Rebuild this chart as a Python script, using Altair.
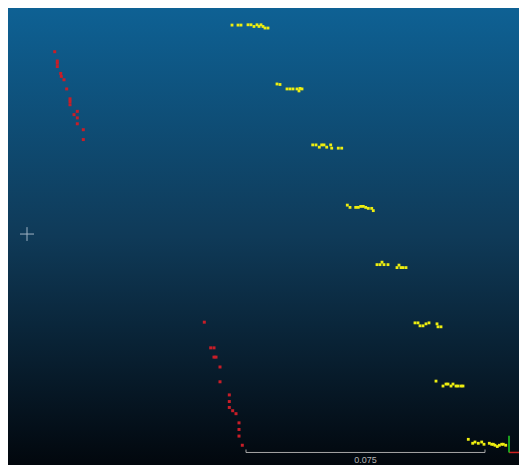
import altair as alt
import pandas as pd

# Point cloud coordinates read from the view (screen-like units, y grows downward)
red_x = [54.7, 57.3, 57.3, 57.3, 60.7, 61.3, 64, 66.7, 70, 70, 70, 77.3, 74, 77.3, 77.3, 83.3, 83.3,
         204.3, 210.7, 214, 214, 216, 220, 220, 229.3, 229.3, 229.3, 232.7, 236, 239, 239, 239, 242.3]
red_y = [52.3, 61.7, 64, 67.3, 74.3, 77.3, 80.7, 90, 100, 102.7, 106, 112.7, 116, 119.3, 125.3, 131.3, 141.3,
         326.3, 352.3, 352.3, 361.7, 361.7, 371.7, 386.7, 400, 406.7, 412.7, 416, 419, 428.3, 435, 441.7, 451]

yellow_x = [232, 238, 241, 248, 251, 254, 257, 259, 261, 263, 265, 268,
            277, 280, 287, 290, 293, 297, 300, 299, 302,
            312.7, 316, 319.3, 321.7, 324, 326.7, 330.7, 331.7, 338.3, 341.7,
            347.3, 350, 355.7, 358.3, 360.7, 363.3, 365.7, 368.3, 371.7, 373.3,
            377, 380, 382, 384, 388, 397, 399, 401, 403, 406,
            415, 418, 420, 423, 426, 429, 437, 438, 441,
            436, 443, 446, 448, 451, 453, 456, 458, 461, 463,
            468.3, 472.7, 475, 478.3, 481.7, 484, 489.3, 491.7, 493.3, 495, 497.3, 499.3, 501.7, 503.3, 505.7]
yellow_y = [25.3, 25.3, 25.3, 25, 25, 26.7, 25, 26.7, 25, 26.7, 28.3, 28.3,
            85, 85.5, 90, 90, 90, 90, 89.5, 92, 90,
            146.7, 146.7, 149, 146.7, 146.7, 149, 146.7, 150, 150, 150,
            207.7, 210, 210, 210, 209, 209, 210, 211, 211, 213.3,
            268, 268, 265.5, 268, 268, 271, 268.5, 271, 271, 271,
            327, 327, 330, 330, 328, 327, 328, 331, 331,
            386, 391, 389, 389, 391, 389, 391, 391, 391, 391,
            445, 449, 447.7, 449, 447.7, 450, 449, 450, 450, 451, 452.3, 451, 450, 450, 451]

scale_label = "0.075"
scale_bar_x = [246, 485]
scale_bar_y = 458.3
cross_center = (27, 237)
cross_arm = 7
axis_origin = (509, 458.3)
axis_len_x = 18
axis_len_y = 17

W, H = 511, 457
xs = alt.Scale(domain=[8, 519], range=[0, W], nice=False, zero=False)
ys = alt.Scale(domain=[8, 471], range=[0, H], nice=False, zero=False)

bg = alt.Chart(pd.DataFrame({"x": [8], "x2": [519], "y": [8], "y2": [471]})).mark_rect(
    fill=alt.Gradient(gradient="linear", x1=0, x2=0, y1=0, y2=1,
                      stops=[alt.GradientStop(offset=0, color="#0e6194"),
                             alt.GradientStop(offset=0.5, color="#0f3a58"),
                             alt.GradientStop(offset=1, color="#02070d")])
).encode(x=alt.X("x:Q", scale=xs, axis=None), x2="x2:Q",
         y=alt.Y("y:Q", scale=ys, axis=None), y2="y2:Q")

red = alt.Chart(pd.DataFrame({"x": red_x, "y": red_y})).mark_square(
    size=9, color="#c81e28", opacity=1).encode(
    x=alt.X("x:Q", scale=xs, axis=None), y=alt.Y("y:Q", scale=ys, axis=None))

yellow = alt.Chart(pd.DataFrame({"x": yellow_x, "y": yellow_y})).mark_square(
    size=8, color="#eeee10", opacity=1).encode(
    x=alt.X("x:Q", scale=xs, axis=None), y=alt.Y("y:Q", scale=ys, axis=None))

cx, cy = cross_center
cross = alt.Chart(pd.DataFrame({
    "x": [cx - cross_arm, cx], "x2": [cx + cross_arm, cx],
    "y": [cy, cy - cross_arm], "y2": [cy, cy + cross_arm]})).mark_rule(
    color="#9fb3c4", strokeWidth=1).encode(
    x=alt.X("x:Q", scale=xs, axis=None), x2="x2:Q",
    y=alt.Y("y:Q", scale=ys, axis=None), y2="y2:Q")

sb = alt.Chart(pd.DataFrame({
    "x": [scale_bar_x[0], scale_bar_x[0], scale_bar_x[1]],
    "x2": [scale_bar_x[1], scale_bar_x[0], scale_bar_x[1]],
    "y": [scale_bar_y, scale_bar_y - 3, scale_bar_y - 3],
    "y2": [scale_bar_y, scale_bar_y, scale_bar_y]})).mark_rule(
    color="#a8a8a8", strokeWidth=1).encode(
    x=alt.X("x:Q", scale=xs, axis=None), x2="x2:Q",
    y=alt.Y("y:Q", scale=ys, axis=None), y2="y2:Q")

sb_text = alt.Chart(pd.DataFrame({"x": [sum(scale_bar_x) / 2], "y": [scale_bar_y + 8], "t": [scale_label]})).mark_text(
    color="#b4b4b4", fontSize=9, font="Liberation Sans", align="center", baseline="middle").encode(
    x=alt.X("x:Q", scale=xs, axis=None), y=alt.Y("y:Q", scale=ys, axis=None), text="t:N")

ox, oy = axis_origin
ax_y = alt.Chart(pd.DataFrame({"x": [ox], "x2": [ox], "y": [oy - axis_len_y], "y2": [oy]})).mark_rule(
    color="#22d022", strokeWidth=1.5).encode(
    x=alt.X("x:Q", scale=xs, axis=None), x2="x2:Q",
    y=alt.Y("y:Q", scale=ys, axis=None), y2="y2:Q")
ax_x = alt.Chart(pd.DataFrame({"x": [ox], "x2": [ox + axis_len_x], "y": [oy], "y2": [oy]})).mark_rule(
    color="#d02020", strokeWidth=1.5, clip=True).encode(
    x=alt.X("x:Q", scale=xs, axis=None), x2="x2:Q",
    y=alt.Y("y:Q", scale=ys, axis=None), y2="y2:Q")

chart = alt.layer(bg, cross, red, yellow, sb, sb_text, ax_x, ax_y).properties(
    width=W, height=H, padding=0, autosize=alt.AutoSizeParams(type="none"),
    background="#02070d"
).configure_view(strokeWidth=0)

chart.save("out.html", embed_options={"renderer": "svg", "actions": False})
